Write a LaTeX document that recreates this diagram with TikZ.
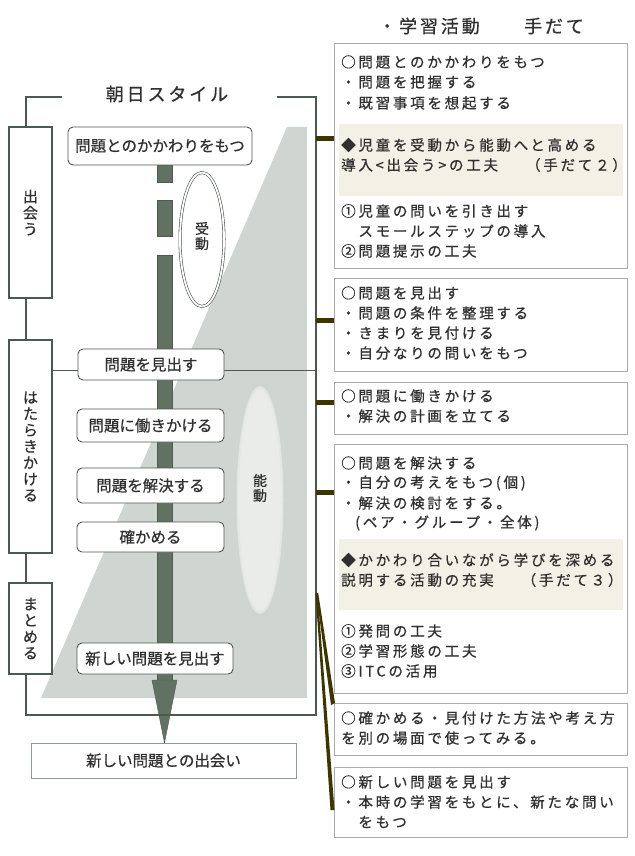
\documentclass[tikz,border=0pt]{standalone}
\usepackage{fontspec}
\setmainfont[FakeBold=0.7]{Noto Sans CJK JP}
\newfontfamily\rfont[LetterSpace=19,FakeBold=0.7]{Noto Sans CJK JP}
\newfontfamily\tfont[LetterSpace=16,FakeBold=0.7]{Noto Sans CJK JP}
\usetikzlibrary{shapes.geometric}
\definecolor{frameC}{HTML}{4B5A50}
\definecolor{barC}{HTML}{617263}
\definecolor{grayC}{HTML}{CFD5D1}
\definecolor{textC}{HTML}{303030}
\definecolor{rboxC}{HTML}{ABABAB}
\definecolor{bandC}{HTML}{F3F1E6}
\definecolor{connC}{HTML}{3D3500}
\definecolor{nodoC}{HTML}{E9ECE8}
\definecolor{outC}{HTML}{8E9C94}
\tikzset{
  mbox/.style={draw=frameC, line width=0.9pt, fill=white, rounded corners=5pt, inner sep=0pt,
    text=textC, font=\fontsize{15.5}{17}\selectfont},
  lbox/.style={draw=frameC, line width=1.4pt, fill=white, inner sep=0pt, minimum width=43pt,
    text=textC, align=center, font=\fontsize{15}{16.3}\selectfont},
  rbox/.style={draw=rboxC, line width=1pt, fill=white, anchor=north west, minimum width=293pt, inner sep=0pt},
  rt/.style={anchor=west, inner sep=0pt, text=textC, font=\rfont\fontsize{14.5}{16}\selectfont},
  frameline/.style={draw=frameC, line width=1.4pt},
  thinline/.style={draw=frameC, line width=0.9pt},
  conn/.style={draw=connC, line width=5pt},
  band/.style={fill=bandC},
}
\begin{document}
\begin{tikzpicture}[x=1pt,y=-1pt]
\useasboundingbox (0,0) rectangle (634,856);
\fill[white] (0,0) rectangle (634,856);

% gray trapezoid
\fill[grayC] (287,127) -- (307,127) -- (307,698) -- (41,698) -- cycle;

% nodo ellipse (soft edge)
\fill[nodoC!70!grayC] (260,500) ellipse [x radius=23.5pt, y radius=114pt];
\fill[nodoC!85!grayC] (260,500) ellipse [x radius=22.5pt, y radius=112.5pt];
\fill[nodoC] (260,500) ellipse [x radius=21pt, y radius=110.5pt];
\node[inner sep=0pt, align=center, text=textC, font=\fontsize{14}{15}\selectfont] (nodo) at (260,488) {能\\動};

% central shaft with dashes and arrow head
\draw[fill=barC, draw=barC!80!black, line width=0.4pt] (157,165) rectangle (172,182);
\draw[fill=barC, draw=barC!80!black, line width=0.4pt] (157,200) rectangle (172,236);
\draw[fill=barC, draw=barC!80!black, line width=0.4pt] (157,255) rectangle (172,681);
\draw[fill=barC, draw=barC!80!black, line width=0.4pt] (152,680) -- (177,680) -- (164.5,743) -- cycle;

% outer frame
\draw[frameline] (62,97) -- (26,97) -- (26,715) -- (316,715) -- (316,97) -- (277,97);
\node[inner sep=0pt, text=textC, font=\tfont\fontsize{18}{20}\selectfont] (title) at (167,94) {朝日スタイル};

% horizontal line at 問題を見出す
\coordinate (h1) at (52,370);
\coordinate (h2) at (316,370);
\draw[thinline] (h1) -- (h2);

% left stage boxes
\node[lbox, minimum height=171pt] (L1) at (30.5,212.5) {出\\会\\う};
\node[lbox, minimum height=213pt] (L2) at (30.5,446.5) {は\\た\\ら\\き\\か\\け\\る};
\node[lbox, minimum height=91pt] (L3) at (30.5,628.5) {ま\\と\\め\\る};

% middle boxes
\node[mbox, minimum width=184pt, minimum height=38pt] (b1) at (160,146) {問題とのかかわりをもつ};
\node[mbox, minimum width=146pt, minimum height=31pt] (b2) at (151,364.5) {問題を見出す};
\node[mbox, minimum width=147pt, minimum height=33pt] (b3) at (150.5,425.5) {問題に働きかける};
\node[mbox, minimum width=147pt, minimum height=35pt] (b4) at (150.5,485.5) {問題を解決する};
\node[mbox, minimum width=147pt, minimum height=30pt] (b5) at (150.5,537) {確かめる};
\node[mbox, minimum width=156pt, minimum height=31pt] (b6) at (155,658.5) {新しい問題を見出す};
\node[draw=outC, line width=0.9pt, fill=white, minimum width=265pt, minimum height=35pt, inner sep=0pt,
  text=textC, font=\fontsize{15.5}{17}\selectfont] (out) at (163.5,760.5) {新しい問題との出会い};

% judo ellipse
\node[draw=frameC, line width=0.6pt, double=white, double distance=1.8pt, fill=white,
  ellipse, minimum width=44pt, minimum height=134pt, inner sep=0pt] (judoE) at (202,239.5) {};
\node[inner sep=0pt, align=center, text=textC, font=\fontsize{14}{15}\selectfont] (judo) at (202,236) {受\\動};

% right column header
\node[inner sep=0pt, text=textC, font=\tfont\fontsize{18}{20}\selectfont] (hd1) at (429,26) {・学習活動};
\node[inner sep=0pt, text=textC, font=\tfont\fontsize{18}{20}\selectfont] (hd2) at (554,26) {手だて};

% right boxes
\node[rbox, minimum height=225pt] (R1) at (334,43) {};
\node[rbox, minimum height=93pt] (R2) at (334,278) {};
\node[rbox, minimum height=52pt] (R3) at (334,382) {};
\node[rbox, minimum height=249pt] (R4) at (334,444) {};
\node[rbox, minimum height=52pt] (R5) at (334,703) {};
\node[rbox, minimum height=70pt] (R6) at (334,767) {};

\fill[band] (339,124) rectangle (623,196);
\fill[band] (339,539) rectangle (623,610);

% texts box 1
\node[rt] (t11) at (341,62) {○問題とのかかわりをもつ};
\node[rt] (t12) at (341,82) {・問題を把握する};
\node[rt] (t13) at (341,103) {・既習事項を想起する};
\node[rt] (t14) at (341,145) {◆児童を受動から能動へと高める};
\node[rt] (t15) at (341,165) {導入<出会う>の工夫\hspace{28pt}（手だて２）};
\node[rt] (t16) at (341,211) {①児童の問いを引き出す};
\node[rt] (t17) at (341,231) {　スモールステップの導入};
\node[rt] (t18) at (341,251) {②問題提示の工夫};
% box 2
\node[rt] (t21) at (341,293) {○問題を見出す};
\node[rt] (t22) at (341,313) {・問題の条件を整理する};
\node[rt] (t23) at (341,333) {・きまりを見付ける};
\node[rt] (t24) at (341,353) {・自分なりの問いをもつ};
% box 3
\node[rt] (t31) at (341,396) {○問題に働きかける};
\node[rt] (t32) at (341,416) {・解決の計画を立てる};
% box 4
\node[rt] (t41) at (341,463) {○問題を解決する};
\node[rt] (t42) at (341,483) {・自分の考えをもつ(個)};
\node[rt] (t43) at (341,503) {・解決の検討をする。};
\node[rt] (t44) at (355,523) {(ペア・グループ・全体)};
\node[rt] (t45) at (341,560) {◆かかわり合いながら学びを深める};
\node[rt] (t46) at (341,580) {説明する活動の充実\hspace{28pt}（手だて３）};
\node[rt] (t47) at (341,631) {①発問の工夫};
\node[rt] (t48) at (341,651) {②学習形態の工夫};
\node[rt] (t49) at (341,671) {③ITCの活用};
% box 5
\node[rt] (t51) at (341,718) {○確かめる・見付けた方法や考え方};
\node[rt] (t52) at (341,738) {を別の場面で使ってみる。};
% box 6
\node[rt] (t61) at (341,782) {○新しい問題を見出す};
\node[rt] (t62) at (341,802) {・本時の学習をもとに、新たな問い};
\node[rt] (t63) at (341,822) {　をもつ};

% connectors from frame to right boxes
\coordinate (c1) at (316,138);
\coordinate (c2) at (316,320);
\coordinate (c3) at (316,402);
\coordinate (c4) at (316,492);
\draw[conn] (c1) -- (R1.west |- c1);
\draw[conn] (c2) -- (R2.west |- c2);
\draw[conn] (c3) -- (R3.west |- c3);
\draw[conn] (c4) -- (R4.west |- c4);
\fill[connC] (316.2,593) -- (318.2,593) -- (335,703) -- (331,705) -- cycle;
\fill[connC] (315.5,593) -- (317.5,593) -- (334.5,810) -- (330.5,810) -- cycle;
\end{tikzpicture}
\end{document}
